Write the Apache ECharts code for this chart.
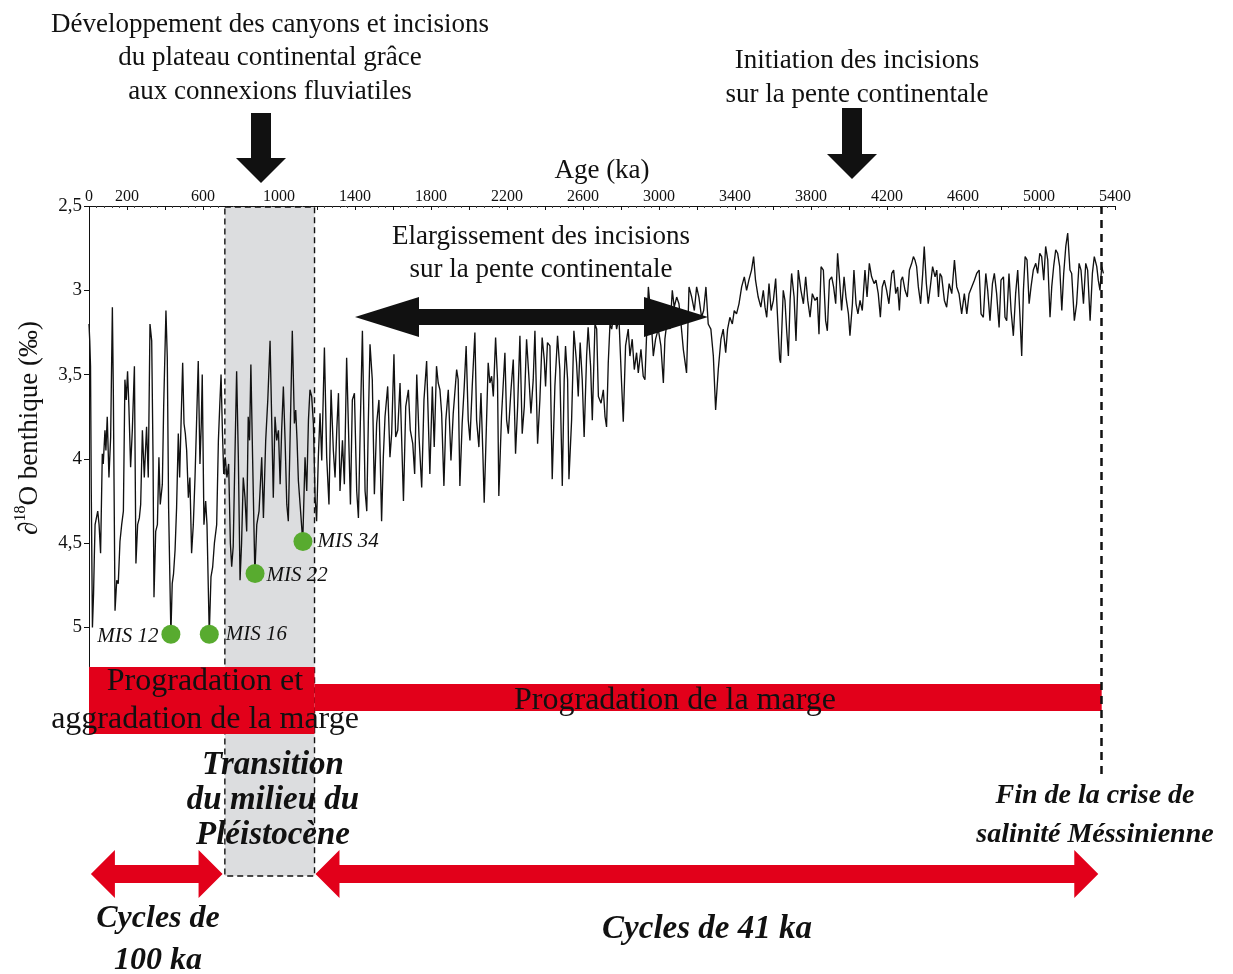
<!DOCTYPE html>
<html><head><meta charset="utf-8">
<script src="https://cdn.jsdelivr.net/npm/echarts@6/dist/echarts.min.js"></script>
<style>html,body{margin:0;padding:0;background:#fff}#c{width:1233px;height:974px}</style>
</head><body><div id="c"></div>
<script>
// ---- DATA (age in ka, benthic d18O in permil) ----
const stackPleistoceneLate = [[0,3.2],[4,3.3],[8,3.45],[12,4.2],[18,5.0],[24,4.8],[28,4.58],[32,4.39],[40,4.4],[46,4.31],[53,4.39],[61,4.56],[70,3.97],[75,4.03],[84,3.83],[89,3.95],[96,3.75],[105,4.11],[114,3.87],[123,3.1],[128,3.59],[137,4.9],[146,4.72],[154,4.74],[163,4.49],[172,4.39],[181,4.31],[189,3.53],[196,3.65],[203,3.48],[210,3.69],[219,4.05],[228,3.83],[239,3.45],[247,4.62],[256,4.39],[265,4.35],[272,4.27],[281,3.83],[291,4.11],[303,3.81],[312,4.11],[321,3.2],[330,3.3],[337,3.99],[342,4.82],[351,4.43],[360,4.39],[368,3.99],[375,4.27],[386,4.15],[393,3.69],[405,3.12],[412,3.4],[419,4.29],[431,5.04],[438,4.74],[445,4.68],[453,4.54],[461,4.29],[470,3.85],[477,4.11],[484,3.81],[493,3.43],[500,3.79],[507,3.85],[514,3.95],[523,4.23],[531,4.11],[540,4.56],[549,4.39],[558,4.11],[566,3.79],[575,3.42],[584,4.03],[591,3.79],[596,3.5],[605,4.39],[614,4.25],[621,4.39],[633,5.04],[642,4.7],[651,4.64],[660,4.5],[672,4.39],[681,3.89],[688,3.69],[695,3.5],[702,3.83],[709,4.09],[717,3.99],[726,4.11],[735,4.03],[744,4.5],[751,4.64],[759,4.52],[768,3.99],[777,3.48],[786,3.99],[795,4.72],[803,4.5],[812,4.11],[821,4.23],[830,4.43],[838,3.75],[845,3.89],[852,3.44],[861,3.99],[873,4.68],[883,4.39],[895,4.31],[909,3.99],[918,4.35],[930,3.89],[941,3.65],[953,3.3],[962,3.79],[970,4.23],[979,3.75],[988,3.89],[997,3.83],[1006,4.15],[1014,3.83],[1023,3.57],[1032,3.89],[1041,4.27],[1049,4.37],[1060,3.79],[1070,3.24],[1081,3.79],[1088,3.71],[1095,3.89],[1102,4.13],[1111,4.27],[1125,4.49],[1137,3.99],[1146,4.19],[1155,3.77],[1163,3.59],[1172,3.63],[1181,3.79],[1190,4.23],[1198,4.37]];
const stackPleistoceneEarly = [[1207,3.99],[1216,3.73],[1225,4.01],[1239,3.34],[1251,3.99],[1263,4.27],[1274,3.59],[1286,3.95],[1295,4.11],[1304,3.83],[1313,3.61],[1321,4.19],[1334,3.89],[1344,4.15],[1356,3.40],[1365,3.79],[1376,4.27],[1386,3.65],[1397,3.61],[1409,4.19],[1418,4.35],[1428,3.79],[1439,3.24],[1453,4.19],[1462,4.31],[1470,3.79],[1479,3.32],[1491,3.53],[1502,4.21],[1514,3.79],[1526,3.65],[1540,4.37],[1549,3.99],[1558,3.75],[1572,3.57],[1584,3.99],[1593,3.85],[1605,3.38],[1614,3.87],[1625,3.83],[1637,3.55],[1655,4.25],[1667,3.69],[1681,3.59],[1691,3.83],[1704,3.91],[1714,4.09],[1725,3.50],[1737,3.87],[1751,4.17],[1763,3.65],[1777,3.42],[1794,4.09],[1807,3.57],[1817,3.93],[1829,3.45],[1838,3.55],[1847,3.59],[1856,3.73],[1868,4.16],[1878,3.77],[1891,3.59],[1905,4.01],[1917,3.73],[1935,3.47],[1943,3.53],[1952,4.16],[1964,3.79],[1975,3.57],[1985,3.33],[1996,3.77],[2005,3.89],[2017,3.57],[2031,3.25],[2040,3.77],[2052,3.93],[2063,3.61],[2073,3.97],[2080,4.26],[2087,3.99],[2101,3.43],[2110,3.55],[2119,3.51],[2128,3.63],[2140,3.28],[2150,3.53],[2157,4.22],[2171,3.75],[2189,3.37],[2198,3.77],[2207,3.85],[2221,3.59],[2233,3.41],[2245,3.97],[2256,3.69],[2268,3.27],[2280,3.85],[2291,3.69],[2303,3.29],[2315,3.51],[2326,3.73],[2338,3.53],[2347,3.24],[2361,3.91],[2373,3.65],[2385,3.28],[2396,3.41],[2403,3.57],[2413,3.31],[2426,3.33],[2438,4.12],[2452,3.57],[2466,3.27],[2478,3.47],[2491,4.16],[2501,3.53],[2508,3.33],[2519,3.53],[2526,4.12],[2540,3.77],[2552,3.24],[2566,3.43],[2575,3.63],[2585,3.31],[2596,3.53],[2606,3.87],[2619,3.39],[2627,3.22],[2640,3.45],[2649,3.77],[2663,3.20]];
const stackPlioceneLate = [[2672,3.23],[2681,3.63],[2695,3.67],[2707,3.59],[2716,3.75],[2724,3.81],[2733,3.43],[2742,3.20],[2751,3.23],[2765,3.12],[2777,3.23],[2789,3.16],[2803,3.55],[2812,3.78],[2824,3.33],[2838,3.23],[2847,3.39],[2859,3.29],[2870,3.47],[2882,3.37],[2891,3.49],[2905,3.35],[2917,3.51],[2926,3.53],[2944,2.98],[2958,3.16],[2970,3.39],[2982,3.29],[2996,3.23],[3010,3.33],[3023,3.55],[3031,3.29],[3045,3.16],[3058,3.23],[3070,3.00],[3080,3.10],[3093,3.04],[3105,3.08],[3116,3.20],[3128,3.35],[3145,3.49],[3158,2.98],[3172,3.04],[3186,3.12],[3198,2.98],[3210,3.04],[3224,3.16],[3235,3.12],[3247,2.98],[3259,3.20],[3273,3.23],[3286,3.39],[3298,3.71],[3312,3.47],[3326,3.29],[3338,3.23],[3351,3.37],[3361,3.23],[3373,3.16],[3386,3.20],[3396,3.12],[3408,3.14],[3421,3.08],[3435,2.98],[3449,2.92],[3461,3.00],[3473,2.94],[3487,2.88],[3498,2.80],[3508,2.94],[3522,3.04],[3536,3.10],[3549,3.00]];
const stackPlioceneEarly = [[3558,3.10],[3567,3.16],[3579,2.96],[3590,3.12],[3602,3.06],[3614,2.93],[3625,3.18],[3635,3.41],[3640,3.43],[3654,3.00],[3663,3.06],[3672,3.24],[3681,3.39],[3690,3.06],[3698,2.90],[3711,3.04],[3721,3.30],[3733,2.88],[3747,3.00],[3760,3.08],[3772,2.92],[3783,3.06],[3795,3.16],[3807,3.02],[3821,3.06],[3833,3.04],[3842,3.26],[3853,2.86],[3865,2.88],[3877,3.18],[3886,3.24],[3897,2.94],[3909,2.92],[3919,2.98],[3930,3.08],[3940,2.78],[3953,2.98],[3961,3.12],[3974,2.92],[3984,3.04],[3997,3.14],[4005,3.27],[4018,3.08],[4026,2.88],[4037,3.08],[4047,3.14],[4058,3.06],[4070,3.12],[4084,2.88],[4095,3.04],[4107,2.84],[4119,2.92],[4132,2.96],[4142,2.94],[4154,3.02],[4165,3.16],[4175,2.98],[4186,2.94],[4198,3.00],[4210,3.08],[4225,2.90],[4235,2.88],[4246,3.02],[4256,2.98],[4265,3.12],[4274,2.94],[4282,2.92],[4295,3.00],[4307,3.04],[4318,2.88],[4330,2.84],[4339,2.80],[4347,2.82],[4356,2.86],[4365,2.98],[4377,3.08],[4388,2.90],[4396,2.74],[4407,2.96],[4417,3.08],[4428,2.98],[4440,2.86],[4453,2.92]];
const stackMiocene = [[4462,2.88],[4471,3.04],[4479,2.90],[4488,2.92],[4502,3.06],[4514,3.10],[4527,2.96],[4541,3.02],[4555,2.82],[4567,2.98],[4579,3.02],[4593,3.14],[4607,3.02],[4620,3.14],[4632,3.02],[4646,2.98],[4660,2.94],[4672,2.90],[4685,2.88],[4695,3.14],[4707,3.16],[4720,2.90],[4730,3.00],[4742,3.18],[4755,2.96],[4765,2.90],[4777,3.02],[4790,3.22],[4800,2.94],[4813,2.92],[4821,3.16],[4830,3.18],[4842,2.90],[4853,3.12],[4865,3.27],[4877,3.02],[4888,2.88],[4900,3.16],[4909,3.39],[4918,3.00],[4927,2.80],[4937,2.82],[4948,3.08],[4958,2.98],[4970,2.88],[4983,2.84],[4993,2.90],[5004,2.78],[5014,2.80],[5025,2.94],[5035,2.74],[5046,2.82],[5058,3.16],[5067,2.98],[5077,2.86],[5088,2.76],[5098,2.78],[5109,2.86],[5120,3.12],[5130,2.90],[5141,2.74],[5151,2.66],[5163,2.88],[5172,2.90],[5186,3.18],[5198,3.08],[5211,2.84],[5221,2.88],[5234,3.08],[5246,2.84],[5256,2.88],[5269,3.18],[5281,2.90],[5291,2.80],[5304,2.86],[5312,2.94],[5321,3.00],[5330,2.86],[5339,2.90]];

const misNames = ['MIS 12','MIS 16','MIS 22','MIS 34'];
const misAges = [431, 633, 874, 1126];
const misValues = [5.04, 5.04, 4.68, 4.49];

const phaseNames = ['Progradation et\naggradation de la marge', 'Progradation de la marge'];
const phaseStart = [0, 1187];
const phaseEnd = [1187, 5330];

const cycleNames = ['Cycles de\n100 ka', 'Cycles de 41 ka'];
const cycleStart = [10, 1192];
const cycleEnd = [703, 5312];

const mptRange = [715, 1187];   // Mid-Pleistocene Transition (ka)
const mscEnd = 5330;            // end of Messinian salinity crisis (ka)

const yTickValues = [2.5, 3, 3.5, 4, 4.5, 5];
const xLabelValues = [0, 200, 600, 1000, 1400, 1800, 2200, 2600, 3000, 3400, 3800, 4200, 4600, 5000, 5400];

// ---- LAYOUT ----
const SERIF = "'Liberation Serif', 'DejaVu Serif', serif";
const RED = '#e2001a';
const GREEN = '#58ab2f';
const GREY = '#dcdddf';
const Y_AXIS_END = 5.234;
const BAND_BOTTOM = 6.474;
const DASH_BOTTOM = 5.893;
const PHASE_ROWS = [[5.234, 5.632], [5.335, 5.495]];
const ARROW_Y = 6.462;

const stack = [].concat(stackPleistoceneLate, stackPleistoceneEarly, stackPlioceneLate, stackPlioceneEarly, stackMiocene);

function txt(text, x, y, size, opts) {
  opts = opts || {};
  return {
    type: 'text', z: 100,
    style: {
      text: text, x: x, y: y,
      fontFamily: SERIF, fontSize: size,
      fontStyle: opts.italic ? 'italic' : 'normal',
      fontWeight: opts.bold ? 'bold' : 'normal',
      fill: '#111',
      align: 'center', verticalAlign: 'middle',
      textAlign: 'center', textVerticalAlign: 'middle',
      lineHeight: opts.lh || size * 1.2
    }
  };
}
function poly(points, fill) {
  return { type: 'polygon', z: 100, shape: { points: points }, style: { fill: fill } };
}
function downArrow(cx, top, headTop, tip, shaftHalf, headHalf) {
  return poly([[cx - shaftHalf, top], [cx + shaftHalf, top], [cx + shaftHalf, headTop], [cx + headHalf, headTop], [cx, tip], [cx - headHalf, headTop], [cx - shaftHalf, headTop]], '#111');
}
function hArrow(x0, x1, cy, hl, hh, st) {
  return [[x0, cy], [x0 + hl, cy - hh], [x0 + hl, cy - st], [x1 - hl, cy - st], [x1 - hl, cy - hh], [x1, cy], [x1 - hl, cy + hh], [x1 - hl, cy + st], [x0 + hl, cy + st], [x0 + hl, cy + hh]];
}

const misLabelLayout = [
  { position: 'left', distance: 3, offset: [0, 2] },
  { position: 'right', distance: 7, offset: [0, 0] },
  { position: 'right', distance: 2, offset: [0, 2] },
  { position: 'right', distance: 5, offset: [0, 0] }
];

const chart = echarts.init(document.getElementById('c'), null, { renderer: 'canvas' });
chart.setOption({
  animation: false,
  backgroundColor: '#fff',
  grid: { left: 89, right: 118, top: 206, bottom: 9.3, containLabel: false },
  xAxis: {
    type: 'value', position: 'top', min: 0, max: 5400, interval: 200,
    axisLine: { show: true, onZero: false, lineStyle: { color: '#111', width: 1 } },
    axisTick: { show: true, inside: true, length: 4, lineStyle: { color: '#111' } },
    minorTick: { show: true, splitNumber: 5, length: 2, lineStyle: { color: '#444' } },
    axisLabel: {
      margin: 1, fontFamily: SERIF, fontSize: 16, color: '#111',
      formatter: v => xLabelValues.indexOf(v) >= 0 ? String(v) : ''
    },
    splitLine: { show: false },
    name: 'Age (ka)', nameLocation: 'middle', nameGap: 21,
    nameTextStyle: { fontFamily: SERIF, fontSize: 27, color: '#111' }
  },
  yAxis: {
    type: 'value', inverse: true, min: 2.5, max: 7.0, interval: 0.5,
    axisLine: { show: false },
    axisTick: { show: true, length: 5, customValues: yTickValues, lineStyle: { color: '#111' } },
    axisLabel: {
      customValues: yTickValues, margin: 7, fontFamily: SERIF, fontSize: 19, color: '#111',
      formatter: v => String(v).replace('.', ',')
    },
    splitLine: { show: false }
  },
  graphic: [
    txt('Développement des canyons et incisions\ndu plateau continental grâce\naux connexions fluviatiles', 270, 58, 27, { lh: 33.5 }),
    txt('Initiation des incisions\nsur la pente continentale', 857, 78, 27, { lh: 34 }),
    txt('Elargissement des incisions\nsur la pente continentale', 541, 253.5, 27, { lh: 33 }),
    downArrow(261, 113, 158, 183, 10, 25),
    downArrow(852, 108, 154, 179, 10, 25),
    poly(hArrow(355, 708, 317, 64, 20, 8), '#111'),
    txt(phaseNames[0], 205, 701, 32, { lh: 38 }),
    txt(phaseNames[1], 675, 701, 32),
    txt('Transition\ndu milieu du\nPléistocène', 273, 800, 33, { italic: true, bold: true, lh: 35 }),
    txt('Fin de la crise de\nsalinité Méssinienne', 1095, 815, 28, { italic: true, bold: true, lh: 39 }),
    txt(cycleNames[0], 158, 940, 32, { italic: true, bold: true, lh: 42 }),
    txt(cycleNames[1], 707, 929, 33, { italic: true, bold: true }),
    {
      type: 'text', z: 100, x: 28, y: 428, rotation: Math.PI / 2,
      style: {
        text: '{a|∂}{s|18}{a|O benthique (‰)}',
        align: 'center', verticalAlign: 'middle', textAlign: 'center', textVerticalAlign: 'middle',
        rich: {
          a: { fontFamily: SERIF, fontSize: 27, lineHeight: 30, fill: '#111', color: '#111', verticalAlign: 'bottom' },
          s: { fontFamily: SERIF, fontSize: 16, lineHeight: 30, fill: '#111', color: '#111', verticalAlign: 'top' }
        }
      }
    }
  ],
  series: [
    {
      type: 'custom', name: 'MPT', z: 1, silent: true,
      data: [mptRange],
      encode: { x: [0, 1] },
      renderItem: (params, api) => {
        const a = api.coord([api.value(0), 2.5]);
        const b = api.coord([api.value(1), BAND_BOTTOM]);
        return {
          type: 'rect',
          shape: { x: a[0], y: a[1] + 1, width: b[0] - a[0], height: b[1] - a[1] - 1 },
          style: { fill: GREY, stroke: '#111', lineWidth: 1.4, lineDash: [6, 4] }
        };
      }
    },
    {
      type: 'line', name: 'd18O', z: 2, data: stack,
      showSymbol: false, symbol: 'none', silent: true,
      lineStyle: { color: '#111', width: 1.35 },
      markLine: {
        silent: true, symbol: ['none', 'none'], label: { show: false }, animation: false,
        data: [
          [{ coord: [0, 2.5], lineStyle: { color: '#111', width: 1, type: 'solid' } }, { coord: [0, Y_AXIS_END] }],
          [{ coord: [mscEnd, 2.5], lineStyle: { color: '#111', width: 2.5, type: [8, 6] } }, { coord: [mscEnd, DASH_BOTTOM] }]
        ]
      }
    },
    {
      type: 'custom', name: 'phases', z: 3, silent: true,
      data: phaseStart.map((s, i) => [s, phaseEnd[i]]),
      encode: { x: [0, 1] },
      renderItem: (params, api) => {
        const row = PHASE_ROWS[params.dataIndex];
        const a = api.coord([api.value(0), row[0]]);
        const b = api.coord([api.value(1), row[1]]);
        return { type: 'rect', shape: { x: a[0], y: a[1], width: b[0] - a[0], height: b[1] - a[1] }, style: { fill: RED } };
      }
    },
    {
      type: 'custom', name: 'cycles', z: 3, silent: true,
      data: cycleStart.map((s, i) => [s, cycleEnd[i]]),
      encode: { x: [0, 1] },
      renderItem: (params, api) => {
        const a = api.coord([api.value(0), ARROW_Y]);
        const b = api.coord([api.value(1), ARROW_Y]);
        return { type: 'polygon', shape: { points: hArrow(a[0], b[0], a[1], 24, 24, 9) }, style: { fill: RED } };
      }
    },
    {
      type: 'scatter', name: 'MIS', z: 4, silent: true,
      symbolSize: 19,
      itemStyle: { color: GREEN, opacity: 1 },
      data: misAges.map((a, i) => ({
        value: [a, misValues[i]],
        label: Object.assign({ show: true, formatter: misNames[i] }, misLabelLayout[i])
      })),
      label: { show: true, fontFamily: SERIF, fontSize: 21, fontStyle: 'italic', color: '#111' }
    }
  ]
});
</script></body></html>
